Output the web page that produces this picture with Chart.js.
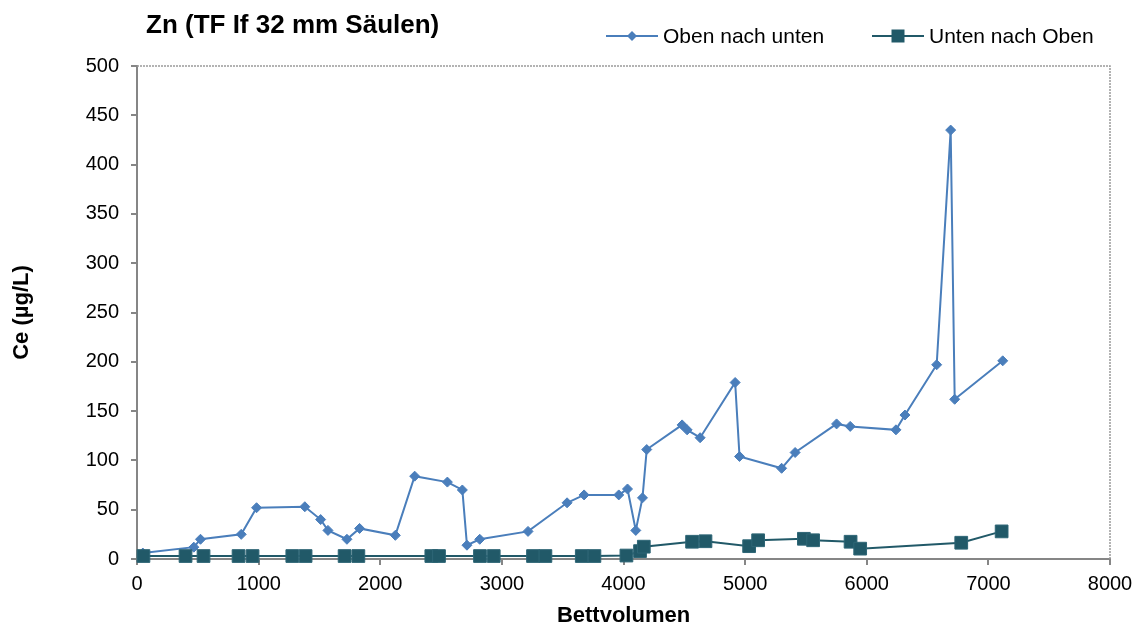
<!DOCTYPE html>
<html>
<head>
<meta charset="utf-8">
<script src="https://cdn.jsdelivr.net/npm/chart.js@4/dist/chart.umd.min.js"></script>
<style>
	html, body { margin: 0; padding: 0; background: #fff; }
	#wrap { width: 1142px; height: 631px; }
</style>
</head>
<body>
<div id="wrap"><canvas id="chart" width="1142" height="631"></canvas></div>
<script>
// Oben nach unten (Bettvolumen / Ce)
const obenX = [48, 467, 522, 857, 983, 1380, 1510, 1570, 1726, 1830, 2124, 2283, 2552, 2675, 2713, 2818, 3215,
	3536, 3676, 3961, 4033, 4101, 4156, 4191, 4482, 4523, 4630, 4918, 4954, 5300, 5411, 5752, 5864, 6240,
	6314, 6575, 6690, 6723, 7118];
const obenY = [6, 12, 20, 25, 52, 53, 40, 29, 20, 31, 24, 84, 78, 70, 14, 20, 28,
	57, 65, 65, 71, 29, 62, 111, 136, 131, 123, 179, 104, 92, 108, 137, 134.5, 131,
	146, 197, 435, 162, 201];

// Unten nach Oben
const untenX = [53, 399, 547, 835, 950, 1277, 1386, 1707, 1820, 2420, 2483, 2820, 2933, 3256, 3358,
	3657, 3761, 4024, 4136, 4167, 4564, 4674, 5033, 5107, 5483, 5559, 5867, 5946, 6777, 7109];
const untenY = [3, 3, 3, 3, 3, 3, 3, 3, 3, 3, 3, 3, 3, 3, 3,
	3, 3, 3.5, 8, 12.5, 17.5, 18, 13, 19, 20.5, 19, 17.5, 10.5, 16.5, 28];

const seriesNames = ['Oben nach unten', 'Unten nach Oben'];
const chartTitle = 'Zn (TF If 32 mm Säulen)';
const xTitle = 'Bettvolumen';
const yTitle = 'Ce (µg/L)';

const blue = '#4a7ebb';
const teal = '#215968';
const axisGray = '#868686';
const FONT = "'Liberation Sans', Arial, sans-serif";

function toPoints(xs, ys) {
	return xs.map((x, i) => ({ x: x, y: ys[i] }));
}

// Titel, Legende und gepunkteter Rahmen
const decoPlugin = {
	id: 'deco',
	afterDraw(chart) {
		const ctx = chart.ctx;
		const a = chart.chartArea;
		ctx.save();

		// Rahmen oben/rechts
		ctx.strokeStyle = '#9a9a9a';
		ctx.lineWidth = 1.5;
		ctx.setLineDash([2, 1]);
		ctx.beginPath();
		ctx.moveTo(a.left, a.top);
		ctx.lineTo(a.right, a.top);
		ctx.lineTo(a.right, a.bottom);
		ctx.stroke();
		ctx.setLineDash([]);

		// Titel
		ctx.fillStyle = '#000';
		ctx.font = 'bold 26px ' + FONT;
		ctx.textBaseline = 'alphabetic';
		ctx.textAlign = 'left';
		ctx.fillText(chartTitle, 146, 33);

		// Legende
		const items = [
			{ x: 606, color: blue, diamond: true, text: seriesNames[0] },
			{ x: 872, color: teal, diamond: false, text: seriesNames[1] }
		];
		const ly = 36;
		ctx.font = '21px ' + FONT;
		ctx.textBaseline = 'middle';
		items.forEach(it => {
			ctx.strokeStyle = it.color;
			ctx.lineWidth = 2;
			ctx.beginPath();
			ctx.moveTo(it.x, ly);
			ctx.lineTo(it.x + 52, ly);
			ctx.stroke();
			ctx.fillStyle = it.color;
			const cx = it.x + 26;
			ctx.beginPath();
			if (it.diamond) {
				ctx.moveTo(cx, ly - 5);
				ctx.lineTo(cx + 5, ly);
				ctx.lineTo(cx, ly + 5);
				ctx.lineTo(cx - 5, ly);
				ctx.closePath();
			} else {
				ctx.rect(cx - 6.5, ly - 6.5, 13, 13);
			}
			ctx.fill();
			ctx.fillStyle = '#000';
			ctx.fillText(it.text, it.x + 57, ly + 1);
		});
		ctx.restore();
	}
};

new Chart(document.getElementById('chart'), {
	type: 'line',
	data: {
		datasets: [{
			label: seriesNames[0],
			data: toPoints(obenX, obenY),
			borderColor: blue,
			backgroundColor: blue,
			borderWidth: 2,
			pointStyle: 'rectRot',
			pointRadius: 5,
			pointBorderWidth: 1,
			pointBorderColor: blue,
			tension: 0,
			clip: false,
			order: 1
		}, {
			label: seriesNames[1],
			data: toPoints(untenX, untenY),
			borderColor: teal,
			backgroundColor: teal,
			borderWidth: 2,
			pointStyle: 'rect',
			pointRadius: 9,
			pointBorderWidth: 1,
			pointBorderColor: '#2e6676',
			tension: 0,
			clip: false,
			order: 0
		}]
	},
	options: {
		responsive: false,
		animation: false,
		layout: { padding: { left: 0, top: 66, right: 32, bottom: 0 } },
		plugins: {
			legend: { display: false },
			title: { display: false },
			tooltip: { enabled: false }
		},
		scales: {
			x: {
				type: 'linear',
				min: 0,
				max: 8000,
				afterFit(scale) { scale.height = 72; },
				ticks: {
					stepSize: 1000,
					color: '#000',
					font: { family: FONT, size: 20 },
					padding: 7,
					maxRotation: 0,
					callback: v => String(v)
				},
				grid: { drawOnChartArea: false, color: axisGray, lineWidth: 2, tickLength: 6 },
				border: { color: axisGray, width: 2 },
				title: {
					display: true,
					text: xTitle,
					color: '#000',
					font: { family: FONT, size: 22, weight: 'bold' },
					padding: { top: 0, bottom: 2 }
				}
			},
			y: {
				min: 0,
				max: 500,
				afterFit(scale) { scale.width = 137; },
				ticks: {
					stepSize: 50,
					color: '#000',
					font: { family: FONT, size: 20 },
					padding: 12,
					callback: v => String(v)
				},
				grid: { drawOnChartArea: false, color: axisGray, lineWidth: 2, tickLength: 6 },
				border: { color: axisGray, width: 2 },
				title: {
					display: true,
					text: yTitle,
					color: '#000',
					font: { family: FONT, size: 22, weight: 'bold' },
					padding: { top: 9, bottom: 0 }
				}
			}
		}
	},
	plugins: [decoPlugin]
});
</script>
</body>
</html>
